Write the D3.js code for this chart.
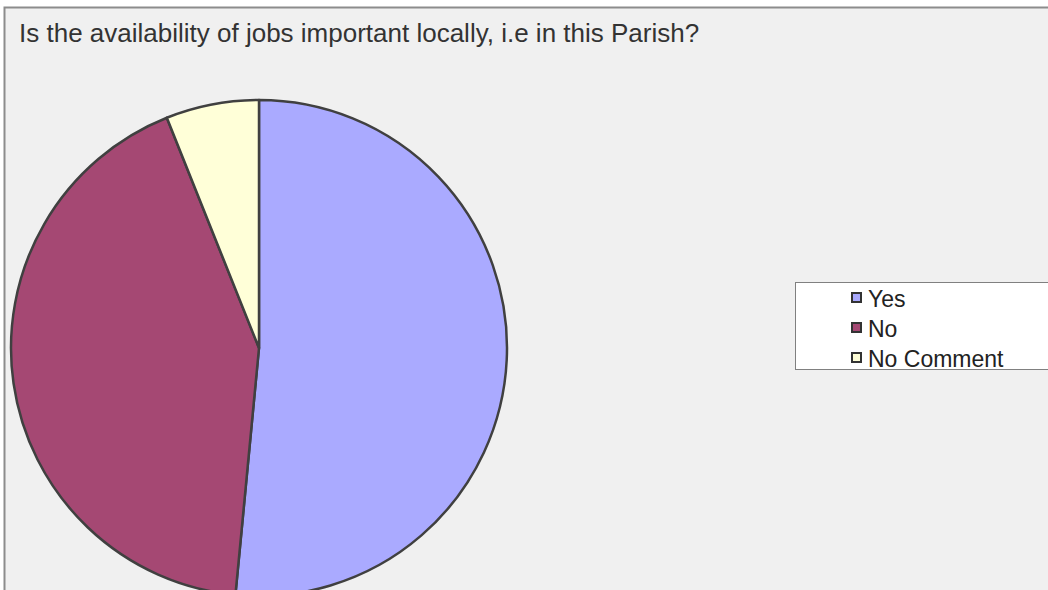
<!DOCTYPE html>
<html>
<head>
<meta charset="utf-8">
<script src="https://cdn.jsdelivr.net/npm/d3@7"></script>
<style>
  html, body { margin: 0; padding: 0; background: #ffffff; }
  svg { display: block; font-family: "Liberation Sans", Arial, sans-serif; }
</style>
</head>
<body>
<div id="chart"></div>
<script>
// survey answers (counts)
const categories = ["Yes", "No", "No Comment"];
const counts = [17, 14, 2];
const colors = ["#aaaaff", "#a54873", "#ffffd8"];
const title = "Is the availability of jobs important locally, i.e in this Parish?";

const width = 1048, height = 590;

const svg = d3.select("#chart").append("svg")
    .attr("width", width)
    .attr("height", height);

// chart area frame (runs off the right and bottom of the picture)
svg.append("rect")
    .attr("x", 4.5)
    .attr("y", 7.5)
    .attr("width", width + 20)
    .attr("height", height + 20)
    .attr("fill", "#f0f0f0")
    .attr("stroke", "#8c8c8c")
    .attr("stroke-width", 2);

svg.append("text")
    .attr("x", 19)
    .attr("y", 42)
    .attr("fill", "#333333")
    .style("font-size", "26px")
    .text(title);

const data = categories.map((c, i) => ({ name: c, value: counts[i] }));

const color = d3.scaleOrdinal().domain(categories).range(colors);

const pie = d3.pie().sort(null).value(d => d.value);
const radius = 248;
const arc = d3.arc().innerRadius(0).outerRadius(radius);

const g = svg.append("g")
    .attr("transform", "translate(259,348)");

g.selectAll("path")
    .data(pie(data))
    .enter().append("path")
    .attr("d", arc)
    .attr("fill", d => color(d.data.name))
    .attr("stroke", "#404040")
    .attr("stroke-width", 2.5)
    .attr("stroke-linejoin", "round");

// legend
const legend = svg.append("g");
legend.append("rect")
    .attr("x", 795.5)
    .attr("y", 282.5)
    .attr("width", 300)
    .attr("height", 87)
    .attr("fill", "#ffffff")
    .attr("stroke", "#808080")
    .attr("stroke-width", 1);

const item = legend.selectAll(".item")
    .data(categories)
    .enter().append("g")
    .attr("class", "item")
    .attr("transform", (d, i) => "translate(851," + (307 + i * 30) + ")");

item.append("rect")
    .attr("x", 1)
    .attr("y", -14)
    .attr("width", 9)
    .attr("height", 9)
    .attr("fill", d => color(d))
    .attr("stroke", "#333333")
    .attr("stroke-width", 2);

item.append("text")
    .attr("x", 17)
    .attr("y", 0)
    .attr("fill", "#222222")
    .style("font-size", "23px")
    .text(d => d);
</script>
</body>
</html>
